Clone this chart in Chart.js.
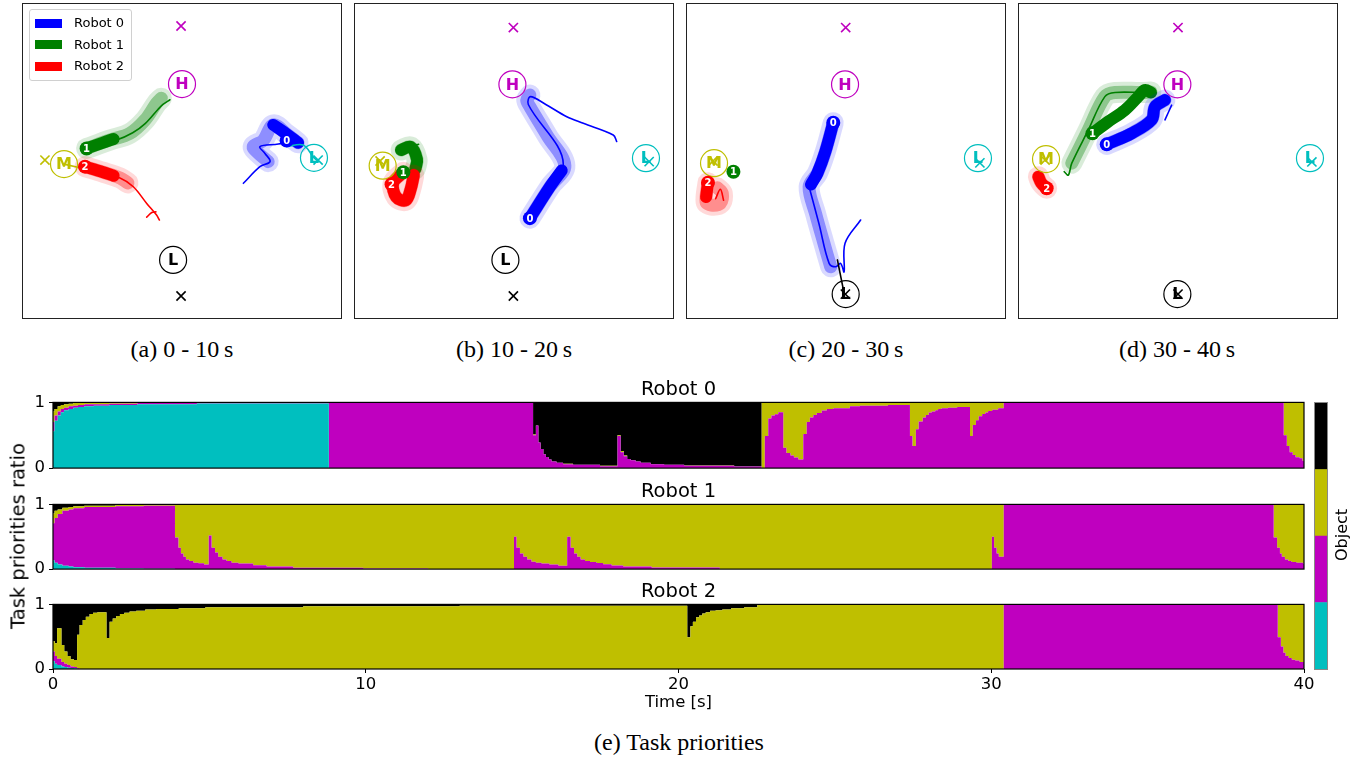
<!DOCTYPE html>
<html>
<head>
<meta charset="utf-8">
<script src="https://cdn.jsdelivr.net/npm/chart.js@4.4.1/dist/chart.umd.min.js"></script>
<style>
  body { margin: 0; width: 1359px; height: 758px; position: relative; overflow: hidden; background: #fff; font-family: "DejaVu Sans", sans-serif; color: #000; }
  .abs { position: absolute; }
  .panel { position: absolute; top: 3px; width: 318px; height: 314px; border: 1px solid #222; }
  .panel canvas, .abs canvas { display: block; }
  .cap { position: absolute; transform: translateX(-50%); font: 24px "Liberation Serif", "Times New Roman", serif; white-space: nowrap; }
  .rot { position: absolute; transform: translate(-50%, -50%) rotate(-90deg); white-space: nowrap; }
  .sw { position: absolute; left: 5px; width: 27px; height: 9px; }
  .lt { position: absolute; left: 44px; font-size: 13px; }
</style>
</head>
<body>
<div class="panel" style="left:22px"><canvas id="pa" width="318" height="314"></canvas></div>
<div class="panel" style="left:354px"><canvas id="pb" width="318" height="314"></canvas></div>
<div class="panel" style="left:686px"><canvas id="pc" width="318" height="314"></canvas></div>
<div class="panel" style="left:1018px"><canvas id="pd" width="318" height="314"></canvas></div>

<div class="abs" id="legend" style="left:29px;top:9px;width:101px;height:70px;border:1px solid #d0d0d0;border-radius:3px;background:rgba(255,255,255,0.85)"></div>

<div class="cap" style="left:182px;top:336px">(a) 0 - 10&#8201;s</div>
<div class="cap" style="left:514px;top:336px">(b) 10 - 20&#8201;s</div>
<div class="cap" style="left:846px;top:336px">(c) 20 - 30&#8201;s</div>
<div class="cap" style="left:1177px;top:336px">(d) 30 - 40&#8201;s</div>

<canvas class="abs" id="r0" width="1320" height="108" style="left:0;top:374px"></canvas>
<canvas class="abs" id="r1" width="1320" height="107" style="left:0;top:476px"></canvas>
<canvas class="abs" id="r2" width="1320" height="137" style="left:0;top:576px"></canvas>

<div class="abs" style="left:1314px;top:402px;width:12px;height:266px;border:1px solid #888"><canvas id="cbar" width="12" height="266"></canvas></div>
<div class="rot" style="left:1341px;top:535px;font-size:16px">Object</div>
<div class="rot" style="left:18px;top:536px;font-size:19.5px">Task priorities ratio</div>
<div class="cap" style="left:679px;top:729px">(e) Task priorities</div>

<script>
// ---- object / robot definitions ----
const objectLabels = ['Object 0', 'Object 1', 'Object 2', 'Object 3'];
const objectLetters = ['L', 'H', 'M', 'L'];
const objectColors = ['#00bfbf', '#bf00bf', '#bfbf00', '#000000'];
const robotNames = ['Robot 0', 'Robot 1', 'Robot 2'];
const robotNumbers = ['0', '1', '2'];
const robotColors = ['#0000ff', '#008000', '#ff0000'];
const robotRGB = ['0,0,255', '0,128,0', '255,0,0'];
const colorbarValues = [1, 1, 1, 1];

// ---- task priority ratios (time [s], then share of each object) ----
const r0Time = [0,0.05,0.15,0.25,0.35,0.5,0.65,0.8,1.0,1.3,
  1.8,2.7,4.6,8.82,15.35,15.44,15.52,15.59,15.68,15.76,
  15.85,15.94,16.1,16.31,16.63,17.49,18.05,18.15,18.25,18.36,
  18.47,18.63,18.79,19.11,19.54,20.18,21.78,22.66,22.76,22.87,
  22.97,23.08,23.19,23.35,23.45,23.58,23.69,23.83,23.99,24.1,
  24.2,24.31,24.42,24.58,24.74,24.95,25.48,25.8,26.7,27.4,
  27.48,27.59,27.68,27.81,27.91,28.0,28.1,28.21,28.3,28.41,
  28.62,28.91,29.32,29.41,29.51,29.6,29.71,29.81,29.9,30.03,
  30.22,30.4,39.35,39.45,39.54,39.64,39.73,39.86,39.95,40];
const r0Cyan = [0.56,0.72,0.80,0.85,0.88,0.90,0.92,0.93,0.94,0.95,
  0.96,0.97,0.985,0,0,0,0,0,0,0,
  0,0,0,0,0,0,0,0,0,0,
  0,0,0,0,0,0,0,0,0,0,
  0,0,0,0,0,0,0,0,0,0,
  0,0,0,0,0,0,0,0,0,0,
  0,0,0,0,0,0,0,0,0,0,
  0,0,0,0,0,0,0,0,0,0,
  0,0,0,0,0,0,0,0,0,0];
const r0Magenta = [0.14,0.08,0.06,0.05,0.04,0.04,0.03,0.03,0.03,0.02,
  0.02,0.02,0.01,0.99,0.50,0.65,0.39,0.29,0.21,0.17,
  0.13,0.10,0.08,0.06,0.05,0.03,0.49,0.24,0.18,0.14,
  0.12,0.10,0.08,0.06,0.05,0.035,0.025,0,0.49,0.755,
  0.80,0.82,0.85,0.31,0.23,0.19,0.16,0.13,0.52,0.70,
  0.77,0.81,0.84,0.875,0.90,0.91,0.94,0.95,0.96,0.49,
  0.335,0.59,0.71,0.77,0.81,0.845,0.86,0.88,0.90,0.91,
  0.92,0.93,0.49,0.655,0.73,0.79,0.825,0.845,0.87,0.89,
  0.91,1,0.50,0.335,0.24,0.20,0.165,0.15,0.11,0.11];
const r0Yellow = [0.16,0.10,0.08,0.06,0.05,0.04,0.04,0.03,0.02,0.02,
  0.015,0.01,0.005,0.005,0.01,0,0,0,0,0,
  0,0,0,0.005,0,0.005,0.01,0.02,0.01,0,
  0,0,0,0,0,0.005,0,1,0.51,0.245,
  0.20,0.18,0.15,0.69,0.77,0.81,0.84,0.87,0.48,0.30,
  0.23,0.19,0.16,0.125,0.10,0.09,0.06,0.05,0.04,0.51,
  0.665,0.41,0.29,0.23,0.19,0.155,0.14,0.12,0.10,0.09,
  0.08,0.07,0.51,0.345,0.27,0.21,0.175,0.155,0.13,0.11,
  0.09,0,0.50,0.665,0.76,0.80,0.835,0.85,0.89,0.89];
const r0Black = [0.14,0.10,0.06,0.04,0.03,0.02,0.01,0.01,0.01,0.01,
  0.005,0,0,0.005,0.49,0.35,0.61,0.71,0.79,0.83,
  0.87,0.90,0.92,0.935,0.95,0.965,0.50,0.74,0.81,0.86,
  0.88,0.90,0.92,0.94,0.95,0.96,0.975,0,0,0,
  0,0,0,0,0,0,0,0,0,0,
  0,0,0,0,0,0,0,0,0,0,
  0,0,0,0,0,0,0,0,0,0,
  0,0,0,0,0,0,0,0,0,0,
  0,0,0,0,0,0,0,0,0,0];

const r1Time = [0,0.05,0.15,0.3,0.5,0.65,1.0,2.0,2.9,3.9,
  4.01,4.09,4.17,4.25,4.36,4.49,4.65,4.83,4.98,5.07,
  5.18,5.28,5.42,5.55,5.71,5.93,6.4,6.83,7.68,9.92,
  12.0,14.74,14.82,14.93,15.04,15.16,15.3,15.44,15.62,15.87,
  16.16,16.44,16.55,16.66,16.76,16.87,17.01,17.17,17.38,17.59,
  17.86,18.23,19.14,21.32,30.02,30.09,30.17,30.24,30.4,39.03,
  39.14,39.23,39.29,39.39,39.5,39.6,39.76,39.97,40];
const r1Cyan = [0.135,0.10,0.07,0.05,0.04,0.03,0.02,0.01,0.005,0,
  0,0,0,0,0,0,0,0,0,0,
  0,0,0,0,0,0,0,0,0,0,
  0,0,0,0,0,0,0,0,0,0,
  0,0,0,0,0,0,0,0,0,0,
  0,0,0,0,0,0,0,0,0,0,
  0,0,0,0,0,0,0,0,0];
const r1Magenta = [0.575,0.69,0.78,0.85,0.88,0.91,0.94,0.96,0.975,0.49,
  0.33,0.24,0.19,0.15,0.125,0.10,0.09,0.07,0.52,0.33,
  0.255,0.19,0.15,0.125,0.10,0.085,0.06,0.04,0.02,0.01,
  0,0.50,0.33,0.24,0.19,0.15,0.115,0.10,0.085,0.07,
  0.05,0.50,0.33,0.24,0.19,0.15,0.125,0.11,0.095,0.075,
  0.057,0.04,0.025,0,0.50,0.33,0.24,0.19,1,0.49,
  0.33,0.24,0.19,0.15,0.125,0.11,0.10,0.085,0.085];
const r1Yellow = [0.15,0.11,0.07,0.05,0.04,0.03,0.02,0.02,0.015,0.51,
  0.67,0.76,0.81,0.85,0.875,0.90,0.91,0.93,0.48,0.67,
  0.745,0.81,0.85,0.875,0.90,0.915,0.94,0.96,0.98,0.99,
  1,0.50,0.67,0.76,0.81,0.85,0.885,0.90,0.915,0.93,
  0.95,0.50,0.67,0.76,0.81,0.85,0.875,0.89,0.905,0.925,
  0.943,0.96,0.975,1,0.50,0.67,0.76,0.81,0,0.51,
  0.67,0.76,0.81,0.85,0.875,0.89,0.90,0.915,0.915];
const r1Black = [0.14,0.10,0.08,0.05,0.04,0.03,0.02,0.01,0.005,0,
  0,0,0,0,0,0,0,0,0,0,
  0,0,0,0,0,0,0,0,0,0,
  0,0,0,0,0,0,0,0,0,0,
  0,0,0,0,0,0,0,0,0,0,
  0,0,0,0,0,0,0,0,0,0,
  0,0,0,0,0,0,0,0,0];

const r2Time = [0,0.06,0.13,0.27,0.36,0.46,0.56,0.67,0.77,0.85,
  0.95,1.05,1.17,1.28,1.42,1.71,1.81,1.91,2.02,2.14,
  2.28,2.45,2.66,2.95,3.3,4.02,4.87,8.0,13.0,20.28,
  20.38,20.46,20.56,20.66,20.76,20.87,21.01,21.19,21.4,21.68,
  22.1,22.52,23.5,30.4,39.16,39.26,39.34,39.41,39.51,39.61,
  39.72,39.86,40];
const r2Cyan = [0.12,0.08,0.06,0.04,0.03,0.02,0.015,0.01,0,0,
  0,0,0,0,0,0,0,0,0,0,
  0,0,0,0,0,0,0,0,0,0,
  0,0,0,0,0,0,0,0,0,0,
  0,0,0,0,0,0,0,0,0,0,
  0,0,0];
const r2Magenta = [0.15,0.12,0.10,0.07,0.05,0.04,0.025,0.02,0.01,0,
  0,0,0,0,0,0,0,0,0,0,
  0,0,0,0,0,0,0,0,0,0,
  0,0,0,0,0,0,0,0,0,0,
  0,0,0,1,0.49,0.35,0.25,0.20,0.17,0.145,
  0.13,0.11,0.11];
const r2Yellow = [0.16,0.20,0.47,0.26,0.19,0.14,0.11,0.11,0.52,0.68,
  0.76,0.81,0.85,0.87,0.88,0.48,0.73,0.78,0.82,0.85,
  0.87,0.89,0.90,0.92,0.93,0.94,0.955,0.97,0.98,0.49,
  0.66,0.73,0.80,0.83,0.86,0.88,0.90,0.91,0.92,0.94,
  0.955,0.99,1,0,0.51,0.65,0.75,0.80,0.83,0.855,
  0.87,0.89,0.89];
const r2Black = [0.57,0.60,0.37,0.63,0.73,0.80,0.85,0.86,0.47,0.32,
  0.24,0.19,0.15,0.13,0.12,0.52,0.27,0.22,0.18,0.15,
  0.13,0.11,0.10,0.08,0.07,0.06,0.045,0.03,0.02,0.51,
  0.34,0.27,0.20,0.17,0.14,0.12,0.10,0.09,0.08,0.06,
  0.045,0.01,0,0,0,0,0,0,0,0,
  0,0,0];

// ---- trajectory snapshots (arena units 0..100) ----
const aObjects = [[91.5,51.0],[50.0,74.5],[12.9,49.0],[47.2,18.5]];
const aTargets = [[92.8,50.3],[49.7,93.0],[6.9,50.3],[49.7,7.0]];
const aRobots = [[82.9,56.5],[20.0,54.0],[19.5,48.2]];
const aGlow0 = [[77.1,49.8],[74.0,52.5],[72.4,54.6],[75.5,56.5],[78.7,61.5],[83.0,58.5],[86.5,55.8]];
const aThick0 = [[78.7,61.5],[83.0,58.5],[86.5,55.8]];
const aThin0 = [[69.3,42.9],[74.5,48.2],[77.7,49.8],[76.1,52.4],[74.5,54.6],[80.3,55.4],[82.9,56.1]];
const aGlow1 = [[20.0,54.0],[27.4,56.7],[33.6,58.8],[38.4,63.1],[42.0,68.4],[43.5,70.0]];
const aThick1 = [[20.0,54.0],[25.0,55.8],[28.5,57.0]];
const aThin1 = [[20.0,54.0],[29.0,56.5],[34.5,59.0],[38.5,62.0],[42.5,66.5],[44.0,68.0],[46.2,69.5]];
const aGlow2 = [[19.5,48.2],[25.0,46.5],[30.5,44.6],[33.0,43.0]];
const aThick2 = [[19.5,48.2],[25.0,46.5],[28.5,45.3]];
const aThin2 = [[19.5,48.2],[30.5,44.6],[34.7,41.8],[38.9,36.5],[42.0,32.8],[42.9,31.2]];
const aHook2 = [[41.8,33.8],[40.5,33.6],[38.9,32.1]];
const aCarryYellow = [[12.9,49.0],[24.2,46.4]];
const aCarryCyan = [[82.9,54.6],[88.1,55.1],[91.2,51.4],[92.8,49.8]];

const bObjects = [[91.5,50.9],[49.5,74.4],[8.7,48.5],[47.3,18.5]];
const bTargets = [[92.5,49.8],[49.8,92.5],[7.9,50.0],[49.8,7.0]];
const bRobots = [[55.0,31.8],[15.2,46.4],[11.5,42.6]];
const bGlow0 = [[55.0,31.8],[61.3,41.8],[66.0,48.5],[60.5,58.0],[55.0,67.3],[54.0,69.4],[55.0,71.0]];
const bThick0 = [[55.0,31.8],[61.3,41.8],[65.0,47.0]];
const bThin0 = [[55.0,31.8],[65.5,49.0],[54.5,68.0],[55.2,70.5],[60.0,68.0],[66.6,64.1],[71.8,62.0],[81.2,58.3],[82.3,56.2]];
const bGlow1 = [[14.5,53.5],[17.5,54.5],[19.5,50.5],[19.0,47.5]];
const bThick1 = [[14.5,53.5],[17.5,54.5],[19.5,50.5],[19.0,47.5]];
const bThin1 = [[17.5,54.5],[20.0,55.3]];
const bGlow2 = [[15.2,46.4],[12.0,43.0],[13.0,38.5],[16.0,37.5],[17.5,41.0],[18.5,45.5]];
const bThick2 = [[15.2,46.4],[12.0,43.0],[13.0,38.5],[16.0,37.5],[17.5,41.0],[18.5,45.5]];
const bThin2 = [[15.5,45.5],[18.5,45.0],[16.5,43.5]];

const cObjects = [[91.5,50.9],[49.7,74.4],[8.5,49.3],[49.9,7.6]];
const cTargets = [[92.1,49.4],[49.9,92.5],[8.2,50.0],[49.8,7.6]];
const cRobots = [[46.0,62.2],[14.6,46.6],[6.6,43.1]];
const cGlow0 = [[46.0,62.2],[43.5,53.0],[41.0,46.1],[38.4,41.8],[40.5,33.0],[43.0,24.0],[45.2,16.3]];
const cThick0 = [[46.0,62.2],[43.5,53.0],[41.0,46.1],[39.0,42.5]];
const cThin0 = [[38.4,41.8],[41.5,30.0],[44.7,17.4],[46.8,16.3],[48.3,17.4],[49.4,14.7],[49.7,23.8],[54.6,31.2]];
const cGlow2 = [[6.6,43.1],[6.0,37.0],[7.5,36.0],[10.5,36.5],[11.1,39.7],[9.5,41.5]];
const cThick2 = [[6.6,43.1],[6.0,38.5]];
const cThin2 = [[9.0,38.0],[10.5,41.0],[11.5,37.5]];
const cCarryBlack = [[47.3,18.5],[49.4,7.9]];

const dObjects = [[91.5,50.9],[49.8,74.4],[8.5,50.6],[49.8,7.6]];
const dTargets = [[92.1,49.7],[50.0,92.5],[8.2,50.3],[50.0,7.6]];
const dRobots = [[27.6,55.3],[23.1,58.8],[8.7,41.3]];
const dGlow0 = [[27.6,55.3],[35.4,58.8],[41.7,63.1],[42.8,67.3],[45.9,69.4]];
const dThick0 = [[27.6,55.3],[35.4,58.8],[41.7,63.1],[42.8,67.3],[45.9,69.4]];
const dThin0 = [[45.9,63.1],[48.0,67.8]];
const dGlow1 = [[16.6,49.3],[21.8,59.9],[27.0,70.5],[30.2,71.8],[38.6,71.8],[41.5,72.0]];
const dThick1 = [[23.1,58.8],[28.0,62.5],[33.3,66.2],[37.5,70.5],[39.6,72.6],[41.5,71.8]];
const dThin1 = [[14.2,46.6],[15.5,45.5],[16.6,49.3],[21.8,59.9],[27.0,70.5],[30.2,71.8],[38.6,71.8]];
const dGlow2 = [[6.1,45.0],[7.0,43.0],[8.7,41.3]];
const dThick2 = [[6.1,45.0],[7.0,43.0],[8.7,41.3]];

Chart.defaults.font.family = '"DejaVu Sans", sans-serif';
Chart.defaults.color = '#000';

// draws a text string on every point of a dataset that has `texts`
const pointTextPlugin = {
  id: 'pointText',
  afterDatasetsDraw(chart) {
    const ctx = chart.ctx;
    chart.data.datasets.forEach((ds, i) => {
      if (!ds.texts) return;
      const meta = chart.getDatasetMeta(i);
      ctx.save();
      ctx.font = ds.textFont;
      ctx.textAlign = 'center';
      ctx.textBaseline = 'middle';
      meta.data.forEach((el, j) => {
        ctx.fillStyle = Array.isArray(ds.textColor) ? ds.textColor[j] : ds.textColor;
        ctx.fillText(ds.texts[j], el.x, el.y + 1);
      });
      ctx.restore();
    });
  }
};

const framePlugin = {
  id: 'frame',
  afterDatasetsDraw(chart) {
    const a = chart.chartArea, ctx = chart.ctx;
    ctx.save();
    ctx.strokeStyle = '#000';
    ctx.lineWidth = 1.2;
    ctx.strokeRect(a.left, a.top, a.right - a.left, a.bottom - a.top);
    ctx.restore();
  }
};

const toXY = pts => pts.map(([x, y]) => ({ x, y }));

function pathSet(pts, color, width) {
  return {
    data: toXY(pts), showLine: true, borderColor: color, borderWidth: width, pointRadius: 0,
    borderCapStyle: 'round', borderJoinStyle: 'round', tension: 0.35, fill: false
  };
}

function robotTrail(r, glow, thick, thin) {
  const rgb = robotRGB[r];
  return [
    pathSet(thin, `rgb(${rgb})`, 1.6),
    pathSet(thick, `rgb(${rgb})`, 12),
    pathSet(glow, `rgba(${rgb},0.35)`, 13),
    pathSet(glow, `rgba(${rgb},0.15)`, 21)
  ];
}

function drawPanel(id, objects, targets, robots, trails) {
  new Chart(document.getElementById(id), {
    type: 'scatter',
    data: {
      datasets: [
        { data: toXY(robots), pointRadius: 7, pointBackgroundColor: robotColors, pointBorderWidth: 0,
          texts: robotNumbers, textColor: '#fff', textFont: 'bold 10px "DejaVu Sans"' },
        { data: toXY(targets), pointStyle: 'crossRot', pointRadius: 6.5, pointBorderColor: objectColors, pointBorderWidth: 1.6 },
        { data: toXY(objects), pointRadius: 13.5, pointBackgroundColor: 'rgba(255,255,255,0)', pointBorderColor: objectColors,
          pointBorderWidth: 1.2, texts: objectLetters, textColor: objectColors, textFont: 'bold 16px "DejaVu Sans"' },
        ...trails
      ]
    },
    options: {
      responsive: false, animation: false, events: [], devicePixelRatio: 1,
      layout: { padding: 0, autoPadding: false },
      plugins: { legend: { display: false }, tooltip: { enabled: false } },
      scales: {
        x: { type: 'linear', min: 0, max: 100, display: false },
        y: { type: 'linear', min: 0, max: 100, display: false }
      }
    },
    plugins: [pointTextPlugin]
  });
}

drawPanel('pa', aObjects, aTargets, aRobots, [
  ...robotTrail(2, aGlow2, aThick2, aThin2),
  pathSet(aHook2, robotColors[2], 1.6),
  pathSet(aCarryYellow, objectColors[2], 1.6),
  pathSet(aCarryCyan, objectColors[0], 1.6),
  ...robotTrail(0, aGlow0, aThick0, aThin0),
  ...robotTrail(1, aGlow1, aThick1, aThin1)
]);
drawPanel('pb', bObjects, bTargets, bRobots, [
  ...robotTrail(2, bGlow2, bThick2, bThin2),
  ...robotTrail(0, bGlow0, bThick0, bThin0),
  ...robotTrail(1, bGlow1, bThick1, bThin1)
]);
drawPanel('pc', cObjects, cTargets, cRobots, [
  pathSet(cCarryBlack, objectColors[3], 1.6),
  ...robotTrail(2, cGlow2, cThick2, cThin2),
  ...robotTrail(0, cGlow0, cThick0, cThin0)
]);
drawPanel('pd', dObjects, dTargets, dRobots, [
  ...robotTrail(2, dGlow2, dThick2, []),
  ...robotTrail(0, dGlow0, dThick0, dThin0),
  ...robotTrail(1, dGlow1, dThick1, dThin1)
]);

// legend of panel (a)
const legend = document.getElementById('legend');
robotNames.forEach((name, i) => {
  const y = 13 + i * 21.5;
  legend.insertAdjacentHTML('beforeend',
    `<div class="sw" style="top:${y - 4.5}px;background:${robotColors[i]}"></div>` +
    `<div class="lt" style="top:${y - 8}px">${name}</div>`);
});

function drawRobot(id, title, times, cyan, magenta, yellow, black, withAxis) {
  const series = [cyan, magenta, yellow, black];
  new Chart(document.getElementById(id), {
    type: 'line',
    data: {
      datasets: series.map((vals, k) => ({
        label: objectLabels[k],
        data: times.map((t, i) => ({ x: t, y: vals[i] })),
        backgroundColor: objectColors[k],
        borderColor: 'rgba(0,0,0,0)',
        borderWidth: 0,
        pointRadius: 0,
        stepped: true,
        fill: k === 0 ? 'origin' : '-1'
      }))
    },
    options: {
      responsive: false, animation: false, events: [], devicePixelRatio: 1,
      layout: { padding: { top: 4, right: 16, bottom: withAxis ? 0 : 5, left: 0 }, autoPadding: false },
      plugins: {
        legend: { display: false },
        tooltip: { enabled: false },
        title: {
          display: true, text: title, fullSize: false, color: '#000',
          font: { size: 19.5, weight: 'normal', lineHeight: 1.2 },
          padding: { top: 0, bottom: 1 }
        }
      },
      scales: {
        x: {
          type: 'linear', min: 0, max: 40, display: withAxis,
          ticks: { stepSize: 10, font: { size: 16.5 }, padding: 2, maxRotation: 0 },
          grid: { drawOnChartArea: false, drawTicks: true, tickLength: 4, color: '#000' },
          border: { display: false },
          title: { display: true, text: 'Time [s]', font: { size: 16.5 }, padding: 0 },
          afterFit(scale) { if (withAxis) scale.height = 44; }
        },
        y: {
          stacked: true, min: 0, max: 1,
          ticks: { stepSize: 1, font: { size: 16.5 }, padding: 4 },
          grid: { drawOnChartArea: false, drawTicks: true, tickLength: 4, color: '#000' },
          border: { display: false },
          afterFit(scale) { scale.width = 53; }
        }
      }
    },
    plugins: [framePlugin]
  });
}

drawRobot('r0', robotNames[0], r0Time, r0Cyan, r0Magenta, r0Yellow, r0Black, false);
drawRobot('r1', robotNames[1], r1Time, r1Cyan, r1Magenta, r1Yellow, r1Black, false);
drawRobot('r2', robotNames[2], r2Time, r2Cyan, r2Magenta, r2Yellow, r2Black, true);

// colour bar: one stacked bar, one segment per object
new Chart(document.getElementById('cbar'), {
  type: 'bar',
  data: {
    labels: ['Object'],
    datasets: colorbarValues.map((v, k) => ({
      label: objectLabels[k], data: [v], backgroundColor: objectColors[k],
      borderWidth: 0, barPercentage: 1, categoryPercentage: 1
    }))
  },
  options: {
    responsive: false, animation: false, events: [], devicePixelRatio: 1,
    layout: { padding: 0 },
    plugins: { legend: { display: false }, tooltip: { enabled: false } },
    scales: {
      x: { stacked: true, display: false },
      y: { stacked: true, display: false, min: 0, max: 4 }
    }
  }
});
</script>
</body>
</html>
